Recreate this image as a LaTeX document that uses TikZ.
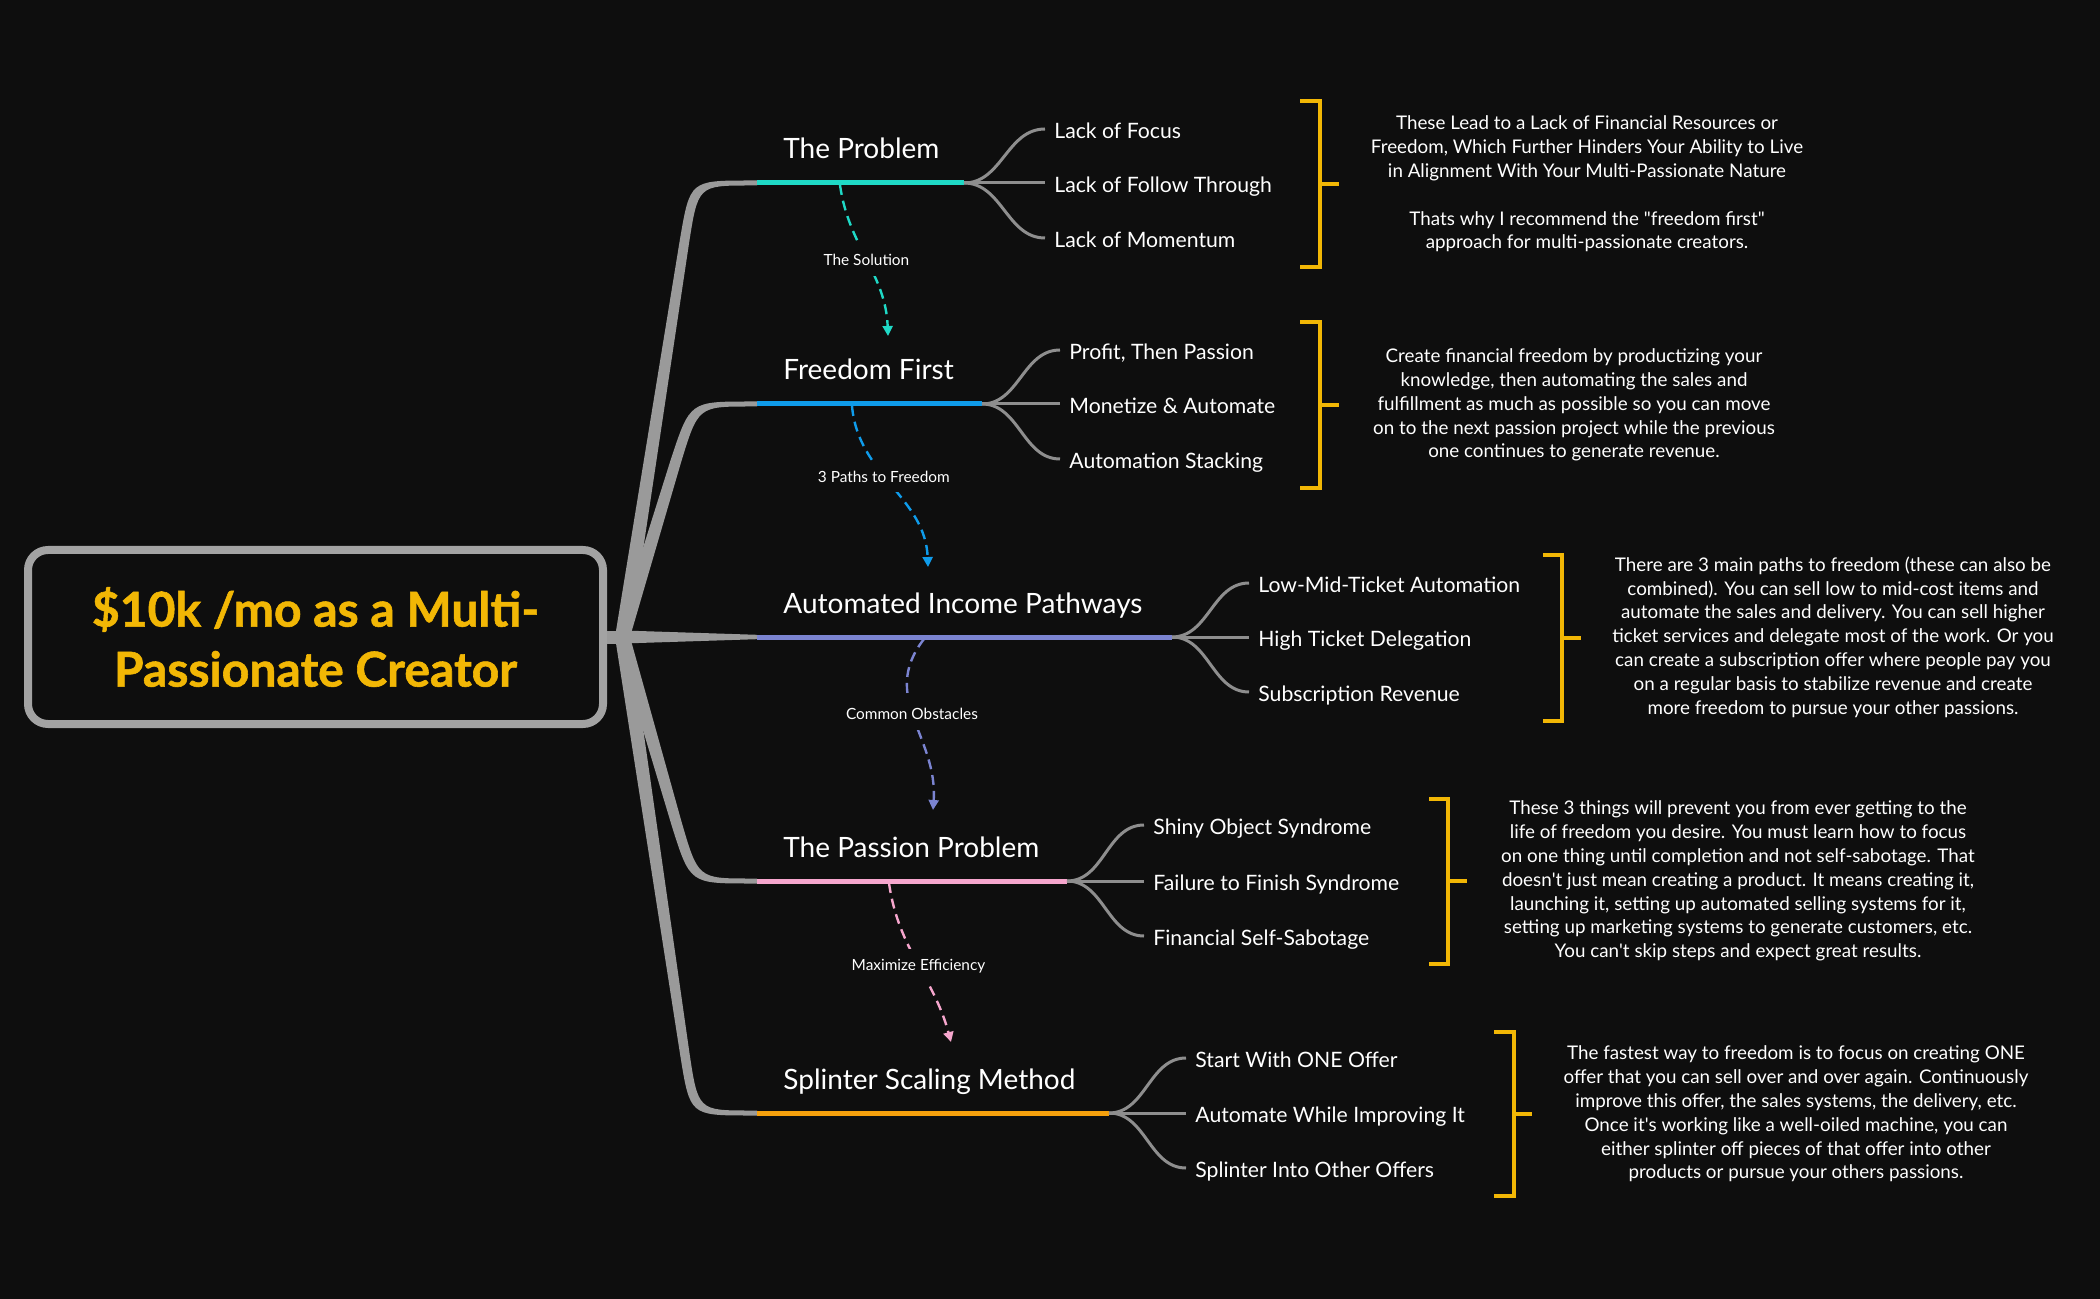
\documentclass[tikz,border=0pt]{standalone}
\usepackage{fontspec}
\setmainfont{Lato}
\newfontfamily\heavyfont{Lato}[FakeBold=1.2]
\usepackage{tikz}
\usetikzlibrary{arrows.meta}
\definecolor{bg}{HTML}{0E0E0E}
\definecolor{frame}{HTML}{A3A3A3}
\definecolor{limb}{HTML}{9A9A9A}
\definecolor{twig}{HTML}{8E8E8E}
\definecolor{gold}{HTML}{F2B705}
\definecolor{cteal}{HTML}{1FD9C6}
\definecolor{cblue}{HTML}{0F9CEB}
\definecolor{clav}{HTML}{7B84D1}
\definecolor{cpink}{HTML}{F6A6CD}
\definecolor{corange}{HTML}{F5A00C}

\begin{document}
\begin{tikzpicture}[x=0.5pt,y=-0.5pt,
  topic/.style={text=white,font=\fontsize{14}{16}\selectfont,inner sep=0pt},
  leaf/.style={text=white,font=\fontsize{10.6}{13}\selectfont,text height=9.5pt,text depth=0pt,inner xsep=4.5pt,inner ysep=0pt},
  note/.style={text=white,font=\fontsize{9.4}{11.9}\selectfont,align=center},
  branch/.style={fill=limb},
  under/.style={line width=2.5pt},
  twig/.style={draw=twig,line width=1.5pt},
  hint/.style={dash pattern=on 5pt off 3pt,line width=1.2pt,-{Triangle[length=5pt,width=5pt]}},
  hintlabel/.style={solid,fill=bg,text=white,font=\fontsize{7.7}{9}\selectfont,inner xsep=3pt,inner ysep=5pt},
  brace/.style={draw=gold,line width=2pt}]

\path[use as bounding box,fill=bg] (0,0) rectangle (2100,1299);

\node[draw=frame,line width=4pt,rounded corners=10pt,fill=bg,minimum width=287.5pt,minimum height=87pt,align=center,text=gold,font=\fontsize{24}{30}\heavyfont\bfseries] (root) at (315.5,637) {\$10k /mo as a Multi-\\Passionate Creator};

\coordinate (a0) at (757,183);
\coordinate (a1) at (964,183);
\coordinate (b0) at (757,404);
\coordinate (b1) at (982,404);
\coordinate (c0) at (757,637);
\coordinate (c1) at (1172,637);
\coordinate (d0) at (757,881);
\coordinate (d1) at (1067,881);
\coordinate (e0) at (757,1113);
\coordinate (e1) at (1109,1113);

\fill[branch] ([yshift=3.25pt]root.east) rectangle ([xshift=11.5pt,yshift=-3.25pt]root.east);
\fill[branch] ([xshift=4pt]root.east) -- (679.9,239.6) .. controls (690,180.5) .. (750,180.5) -- ([yshift=1.25pt]a0) -- ([yshift=-1.25pt]a0) -- (750,185.5) .. controls (698,185.5) .. (688.8,244.8) -- ([xshift=11.5pt]root.east) -- cycle;
\fill[branch] ([xshift=4pt]root.east) -- (671.1,458.5) .. controls (690,401.5) .. (750,401.5) -- ([yshift=1.25pt]b0) -- ([yshift=-1.25pt]b0) -- (750,406.5) .. controls (698,406.5) .. (680.6,463.9) -- ([xshift=11.5pt]root.east) -- cycle;
\fill[branch] ([xshift=8pt,yshift=3.25pt]root.east) -- ([yshift=1.1pt]c0) -- ([yshift=-1.1pt]c0) -- ([xshift=8pt,yshift=-3.25pt]root.east) -- cycle;
\fill[branch] ([xshift=4pt]root.east) -- (671.9,826.3) .. controls (690,883.5) .. (750,883.5) -- ([yshift=-1.25pt]d0) -- ([yshift=1.25pt]d0) -- (750,878.5) .. controls (698,878.5) .. (681.3,820.9) -- ([xshift=11.5pt]root.east) -- cycle;
\fill[branch] ([xshift=4pt]root.east) -- (680.4,1056.3) .. controls (690,1115.5) .. (750,1115.5) -- ([yshift=-1.25pt]e0) -- ([yshift=1.25pt]e0) -- (750,1110.5) .. controls (698,1110.5) .. (689.2,1051.1) -- ([xshift=11.5pt]root.east) -- cycle;

\draw[under,draw=cteal] (a0) -- (a1);
\draw[under,draw=cblue] (b0) -- (b1);
\draw[under,draw=clav] (c0) -- (c1);
\draw[under,draw=cpink] (d0) -- (d1);
\draw[under,draw=corange] (e0) -- (e1);

\node[topic,anchor=base west] (prob) at (783,159) {The Problem};
\node[topic,anchor=base west] (free) at (783,380) {Freedom First};
\node[topic,anchor=base west] (auto) at (783,613) {Automated Income Pathways};
\node[topic,anchor=base west] (pass) at (783,857) {The Passion Problem};
\node[topic,anchor=base west] (split) at (783,1089) {Splinter Scaling Method};

\node[leaf,right] (focus) at (1045,129) {Lack of Focus};
\node[leaf,right] (follow) at (1045,183) {Lack of Follow Through};
\node[leaf,right] (moment) at (1045,238) {Lack of Momentum};
\draw[twig] (a1) to[out=0,in=180] (focus.west);
\draw[twig] (a1) -- (follow.west);
\draw[twig] (a1) to[out=0,in=180] (moment.west);

\node[leaf,right] (profit) at (1060,350) {Profit, Then Passion};
\node[leaf,right] (monet) at (1060,404) {Monetize \& Automate};
\node[leaf,right] (stack) at (1060,459) {Automation Stacking};
\draw[twig] (b1) to[out=0,in=180] (profit.west);
\draw[twig] (b1) -- (monet.west);
\draw[twig] (b1) to[out=0,in=180] (stack.west);

\node[leaf,right] (lowmid) at (1249,583) {Low-Mid-Ticket Automation};
\node[leaf,right] (high) at (1249,637) {High Ticket Delegation};
\node[leaf,right] (subs) at (1249,692) {Subscription Revenue};
\draw[twig] (c1) to[out=0,in=180] (lowmid.west);
\draw[twig] (c1) -- (high.west);
\draw[twig] (c1) to[out=0,in=180] (subs.west);

\node[leaf,right] (shiny) at (1144,825) {Shiny Object Syndrome};
\node[leaf,right] (fail) at (1144,881) {Failure to Finish Syndrome};
\node[leaf,right] (sabo) at (1144,936) {Financial Self-Sabotage};
\draw[twig] (d1) to[out=0,in=180] (shiny.west);
\draw[twig] (d1) -- (fail.west);
\draw[twig] (d1) to[out=0,in=180] (sabo.west);

\node[leaf,right] (one) at (1186,1058) {Start With ONE Offer};
\node[leaf,right] (improve) at (1186,1113) {Automate While Improving It};
\node[leaf,right] (other) at (1186,1168) {Splinter Into Other Offers};
\draw[twig] (e1) to[out=0,in=180] (one.west);
\draw[twig] (e1) -- (improve.west);
\draw[twig] (e1) to[out=0,in=180] (other.west);

\coordinate (s1) at (840,185);
\coordinate (t1) at (888,336);
\coordinate (s2) at (852,406);
\coordinate (t2) at (928,567);
\coordinate (s3) at (924,639);
\coordinate (t3) at (933,810);
\coordinate (s4) at (889,883);
\coordinate (t4) at (951,1042);
\draw[hint,draw=cteal] (s1) to[out=-82,in=92] node[hintlabel] (sol) {The Solution} (t1);
\draw[hint,draw=cblue] (s2) to[out=-85,in=92] node[hintlabel,pos=0.43] (paths) {3 Paths to Freedom} (t2);
\draw[hint,draw=clav] (s3) to[out=-128,in=86,looseness=1.1] node[hintlabel,pos=0.47] (obst) {Common Obstacles} (t3);
\draw[hint,draw=cpink] (s4) to[out=-82,in=105] node[hintlabel,pos=0.52] (eff) {Maximize Efficiency} (t4);

\draw[brace] (1300,101) -- (1320,101) -- (1320,267) -- (1300,267) (1320,184) -- (1339,184);
\draw[brace] (1300,322) -- (1320,322) -- (1320,488) -- (1300,488) (1320,405) -- (1339,405);
\draw[brace] (1543,555) -- (1562,555) -- (1562,721) -- (1543,721) (1562,638) -- (1581,638);
\draw[brace] (1429,799) -- (1448,799) -- (1448,964) -- (1429,964) (1448,881) -- (1467,881);
\draw[brace] (1494,1032) -- (1514,1032) -- (1514,1196) -- (1494,1196) (1514,1114) -- (1532,1114);

\node[note] (n1) at (1587,184) {These Lead to a Lack of Financial Resources or\\Freedom, Which Further Hinders Your Ability to Live\\in Alignment With Your Multi-Passionate Nature\\[11.9pt]Thats why I recommend the \textquotedbl freedom first\textquotedbl\\approach for multi-passionate creators.};
\node[note] (n2) at (1574,405) {Create financial freedom by productizing your\\knowledge, then automating the sales and\\fulfillment as much as possible so you can move\\on to the next passion project while the previous\\one continues to generate revenue.};
\node[note] (n3) at (1833,637) {There are 3 main paths to freedom (these can also be\\combined). You can sell low to mid-cost items and\\automate the sales and delivery. You can sell higher\\ticket services and delegate most of the work. Or you\\can create a subscription offer where people pay you\\on a regular basis to stabilize revenue and create\\more freedom to pursue your other passions.};
\node[note] (n4) at (1738,881) {These 3 things will prevent you from ever getting to the\\life of freedom you desire. You must learn how to focus\\on one thing until completion and not self-sabotage. That\\doesn\textquotesingle t just mean creating a product. It means creating it,\\launching it, setting up automated selling systems for it,\\setting up marketing systems to generate customers, etc.\\You can\textquotesingle t skip steps and expect great results.};
\node[note] (n5) at (1796,1114) {The fastest way to freedom is to focus on creating ONE\\offer that you can sell over and over again. Continuously\\improve this offer, the sales systems, the delivery, etc.\\Once it\textquotesingle s working like a well-oiled machine, you can\\either splinter off pieces of that offer into other\\products or pursue your others passions.};
\end{tikzpicture}
\end{document}
